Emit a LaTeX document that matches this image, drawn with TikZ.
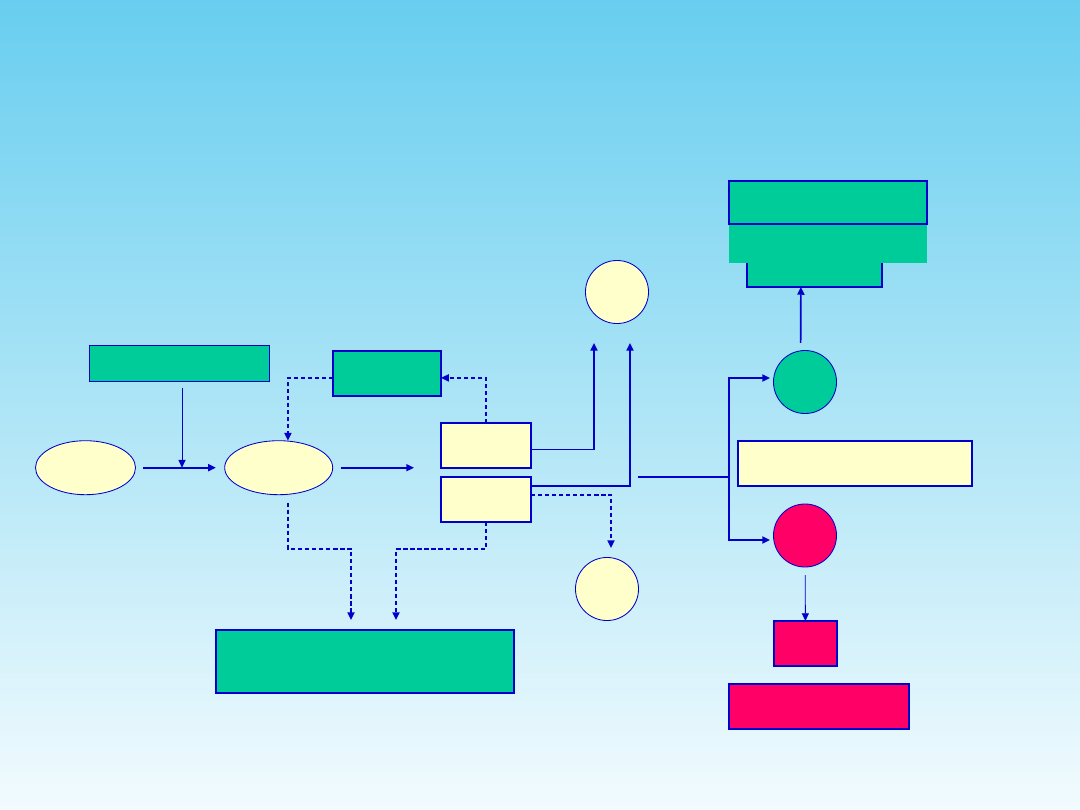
\documentclass[tikz,border=0pt]{standalone}
\usepackage{tikz}
\usetikzlibrary{arrows.meta,shapes.geometric}
\definecolor{sky}{RGB}{104,206,239}
\definecolor{mist}{RGB}{242,251,254}
\definecolor{boxgreen}{RGB}{0,204,153}
\definecolor{boxcream}{RGB}{255,255,204}
\definecolor{boxred}{RGB}{255,0,102}
\definecolor{edge}{RGB}{0,0,204}
\begin{document}
\begin{tikzpicture}[
  x=0.025cm,y=-0.025cm,
  box/.style={
    draw=edge,
    line width=1.2pt,
    inner sep=0pt,
    outer sep=0pt
  },
  blob/.style={ellipse,draw=edge,line width=0.6pt,fill=boxcream,inner sep=0pt,outer sep=0pt,minimum height=1.35cm},
  disc/.style={circle,draw=edge,line width=0.6pt,inner sep=0pt,outer sep=0pt,minimum size=1.575cm},
  flow/.style={-{Triangle[length=5.5pt,width=5pt]},edge,line width=1.2pt},
  thinflow/.style={flow,line width=0.6pt},
  hint/.style={flow,dash pattern=on 3pt off 2pt},
  line/.style={edge,line width=1.2pt}
]
\useasboundingbox (0,0) rectangle (1080,810);
\shade[top color=sky,bottom color=mist] (0,0) rectangle (1080,810);
% top right stack
\node[box,fill=boxgreen,minimum width=3.375cm,minimum height=0.8cm] (tierC) at (814.5,271) {};
\node[fill=boxgreen,inner sep=0pt,outer sep=0pt,minimum width=4.95cm,minimum height=0.975cm] (tierB) at (828,243.5) {};
\node[box,fill=boxgreen,minimum width=4.95cm,minimum height=1.075cm] (tierA) at (828,202.5) {};
% circles
\node[disc,fill=boxcream] (goal) at (617,292) {};
\node[disc,fill=boxcream] (waste) at (607,589) {};
\node[disc,fill=boxgreen] (gdisc) at (805,382) {};
\node[disc,fill=boxred] (rdisc) at (805,535.5) {};
% right boxes
\node[box,fill=boxcream,minimum width=5.85cm,minimum height=1.125cm] (note) at (855,463.5) {};
\node[box,fill=boxred,minimum width=1.575cm,minimum height=1.125cm] (rsmall) at (805.5,643.5) {};
\node[box,fill=boxred,minimum width=4.5cm,minimum height=1.125cm] (rbig) at (819,706.5) {};
% middle boxes
\node[box,fill=boxcream,minimum width=2.25cm,minimum height=1.125cm] (upper) at (486,445.5) {};
\node[box,fill=boxcream,minimum width=2.25cm,minimum height=1.125cm] (lower) at (486,499.5) {};
\node[box,fill=boxgreen,minimum width=2.7cm,minimum height=1.125cm] (ctrl) at (387,373.5) {};
\node[box,line width=0.6pt,fill=boxgreen,minimum width=4.5cm,minimum height=0.9cm] (src) at (179.5,363.5) {};
\node[box,fill=boxgreen,minimum width=7.45cm,minimum height=1.575cm] (base) at (365,661.5) {};
% ellipses
\node[blob,minimum width=2.5cm] (e1) at (85.5,467.7) {};
\node[blob,minimum width=2.7cm] (e2) at (278.7,467.7) {};
% free ends
\coordinate (join) at (182,467.7);
\coordinate (into) at (414,467.7);
\coordinate (goalin1) at (594,343);
\coordinate (goalin2) at (630,343);
\coordinate (wastein) at (611,548);
\coordinate (drop1) at (351,620);
\coordinate (drop2) at (396,620);
\coordinate (split) at (638,477);
\coordinate (fork) at (729,477);
\coordinate (gin) at (770,378);
\coordinate (rin) at (770,540);
% connectors
\draw[thinflow,shorten <=0.15cm] (src.south -| join) -- (join);
\draw[flow,shorten <=0.19cm,shorten >=0.22cm] (e1.east) -- (e2.west);
\draw[flow,shorten <=0.2cm] (e2.east) -- (into);
\draw[hint] ([yshift=-0.11cm]ctrl.west) -| ([xshift=0.23cm]e2.north);
\draw[hint] (upper.north) |- ([yshift=-0.11cm]ctrl.east);
\draw[flow] ([yshift=-0.1cm]upper.east) -| (goalin1);
\draw[flow] ([yshift=0.34cm]lower.east) -| (goalin2);
\draw[hint] ([yshift=0.12cm]lower.east) -| (wastein);
\draw[hint] ([xshift=0.23cm,yshift=-0.2cm]e2.south) -- ++(0,46) -| (drop1);
\draw[hint] (lower.south) -- ++(0,27) -| (drop2);
\draw[line] (split) -- (fork);
\draw[flow] (fork) |- (gin);
\draw[flow] (fork) |- (rin);
\draw[flow,shorten <=0.19cm] ([xshift=-0.11cm]gdisc.north) -- ([xshift=-0.34cm]tierC.south);
\draw[thinflow,shorten <=0.2cm] (rdisc) -- (rsmall);
\end{tikzpicture}
\end{document}
